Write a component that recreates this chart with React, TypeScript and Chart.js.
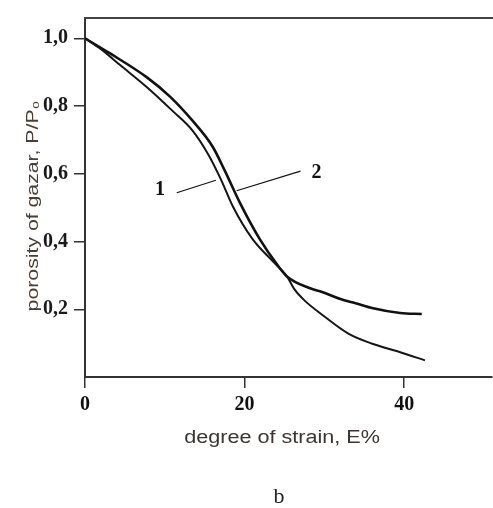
import React, { useEffect, useRef } from "react";
import { Chart, registerables } from "chart.js";

Chart.register(...registerables);

// ---- data ----
const xTicks = [0, 20, 40];
const yTicks = [0.2, 0.4, 0.6, 0.8, 1.0];

// curve 1 (thin, lower/left at the start, ends low)
const curve1X = [0, 2, 4.4, 7.8, 11.0, 13.5, 15.5, 17.0, 18.5, 21.0, 23.6, 25.3, 26.3, 27.6, 29.7, 33.0, 36.0, 39.5, 42.6];
const curve1Y = [1.0, 0.968, 0.921, 0.855, 0.785, 0.727, 0.655, 0.585, 0.505, 0.407, 0.34, 0.297, 0.257, 0.224, 0.184, 0.128, 0.098, 0.073, 0.049];

// curve 2 (thick, upper/right at the start, ends flat)
const curve2X = [0, 3.1, 7.8, 10.65, 13.5, 16.0, 17.5, 19.4, 21.9, 24.1, 25.3, 28.2, 29.7, 32.0, 33.9, 36.1, 39.5, 42.2];
const curve2Y = [1.0, 0.956, 0.884, 0.828, 0.756, 0.68, 0.61, 0.515, 0.407, 0.331, 0.297, 0.262, 0.251, 0.23, 0.218, 0.203, 0.189, 0.186];

// curve labels with leader lines (data units)
const curveLabels = ["1", "2"];
const labelX = [9.4, 29.0];
const labelY = [0.552, 0.602];
const leaderFromX = [11.5, 27.0];
const leaderFromY = [0.544, 0.608];
const leaderToX = [16.4, 19.0];
const leaderToY = [0.581, 0.55];

const xTitle = "degree of strain, E%";
const yTitle = "porosity of gazar, P/P\u2080";
const caption = "b";

const W = 493;
const H = 508;

const decorPlugin = {
  id: "decor",
  afterDraw(chart: any) {
    const { ctx, chartArea, scales } = chart;
    const xs = scales.x;
    const ys = scales.y;
    ctx.save();
    // top border
    ctx.strokeStyle = "#444";
    ctx.lineWidth = 2;
    ctx.beginPath();
    ctx.moveTo(chartArea.left - 1, chartArea.top);
    ctx.lineTo(W, chartArea.top);
    ctx.stroke();

    // leader lines and labels
    ctx.strokeStyle = "#111";
    ctx.lineWidth = 1.2;
    for (let i = 0; i < curveLabels.length; i++) {
      ctx.beginPath();
      ctx.moveTo(xs.getPixelForValue(leaderFromX[i]), ys.getPixelForValue(leaderFromY[i]));
      ctx.lineTo(xs.getPixelForValue(leaderToX[i]), ys.getPixelForValue(leaderToY[i]));
      ctx.stroke();
      ctx.fillStyle = "#111";
      ctx.font = 'bold 20px "Liberation Serif", "Times New Roman", serif';
      ctx.textAlign = "center";
      ctx.textBaseline = "middle";
      ctx.fillText(curveLabels[i], xs.getPixelForValue(labelX[i]), ys.getPixelForValue(labelY[i]));
    }

    // x title (stretched)
    ctx.save();
    ctx.translate(282, 438);
    ctx.scale(1.2, 1);
    ctx.fillStyle = "#3a3532";
    ctx.font = '18px "Liberation Sans", Arial, sans-serif';
    ctx.textAlign = "center";
    ctx.textBaseline = "middle";
    ctx.fillText(xTitle, 0, 0);
    ctx.restore();

    // y title (rotated, stretched)
    ctx.save();
    ctx.translate(33, 206);
    ctx.rotate(-Math.PI / 2);
    ctx.scale(1.25, 1);
    ctx.fillStyle = "#4a3d33";
    ctx.font = '17px "Liberation Sans", Arial, sans-serif';
    ctx.textAlign = "center";
    ctx.textBaseline = "middle";
    ctx.fillText(yTitle, 0, 0);
    ctx.restore();

    // caption
    ctx.fillStyle = "#222";
    ctx.font = '22px "Liberation Serif", "Times New Roman", serif';
    ctx.textAlign = "center";
    ctx.textBaseline = "middle";
    ctx.fillText(caption, 279, 497);
    ctx.restore();
  },
};

export default function App() {
  const ref = useRef<HTMLCanvasElement | null>(null);

  useEffect(() => {
    if (!ref.current) return;
    const chart = new Chart(ref.current, {
      type: "line",
      data: {
        datasets: [
          {
            label: "1",
            data: curve1X.map((x, i) => ({ x, y: curve1Y[i] })),
            borderColor: "#151515",
            borderWidth: 2,
            pointRadius: 0,
            cubicInterpolationMode: "monotone",
          },
          {
            label: "2",
            data: curve2X.map((x, i) => ({ x, y: curve2Y[i] })),
            borderColor: "#111",
            borderWidth: 2.6,
            pointRadius: 0,
            cubicInterpolationMode: "monotone",
          },
        ],
      },
      options: {
        animation: false,
        responsive: false,
        devicePixelRatio: 1,
        layout: { padding: { top: 12, right: 1, left: 0, bottom: 0 } },
        plugins: { legend: { display: false }, tooltip: { enabled: false } },
        scales: {
          x: {
            type: "linear",
            min: 0,
            max: 51,
            afterBuildTicks: (s: any) => {
              s.ticks = xTicks.map((v) => ({ value: v }));
            },
            afterFit: (s: any) => {
              s.height = 131;
            },
            grid: { display: true, drawOnChartArea: false, drawTicks: true, tickLength: 11, color: "#333", lineWidth: 1.5 },
            border: { display: true, color: "#333", width: 2 },
            ticks: {
              font: { family: '"Liberation Serif", "Times New Roman", serif', weight: "bold", size: 20 },
              color: "#111",
              padding: 5,
              maxRotation: 0,
              autoSkip: false,
              callback: (v: any) => String(v),
            },
          },
          y: {
            type: "linear",
            min: 0,
            max: 1.06,
            afterBuildTicks: (s: any) => {
              s.ticks = yTicks.map((v) => ({ value: v }));
            },
            afterFit: (s: any) => {
              s.width = 85;
            },
            grid: { display: true, drawOnChartArea: false, drawTicks: true, tickLength: 11, color: "#333", lineWidth: 1.5 },
            border: { display: true, color: "#333", width: 2 },
            ticks: {
              font: { family: '"Liberation Serif", "Times New Roman", serif', weight: "bold", size: 20 },
              color: "#1a1a1a",
              padding: 6,
              autoSkip: false,
              callback: (v: any) => Number(v).toFixed(1).replace(".", ","),
            },
          },
        },
      },
      plugins: [decorPlugin],
    });
    return () => chart.destroy();
  }, []);

  return (
    <div style={{ position: "absolute", left: 0, top: 0, width: W, height: H, background: "#fff" }}>
      <canvas ref={ref} width={W} height={H} style={{ display: "block" }} />
    </div>
  );
}
